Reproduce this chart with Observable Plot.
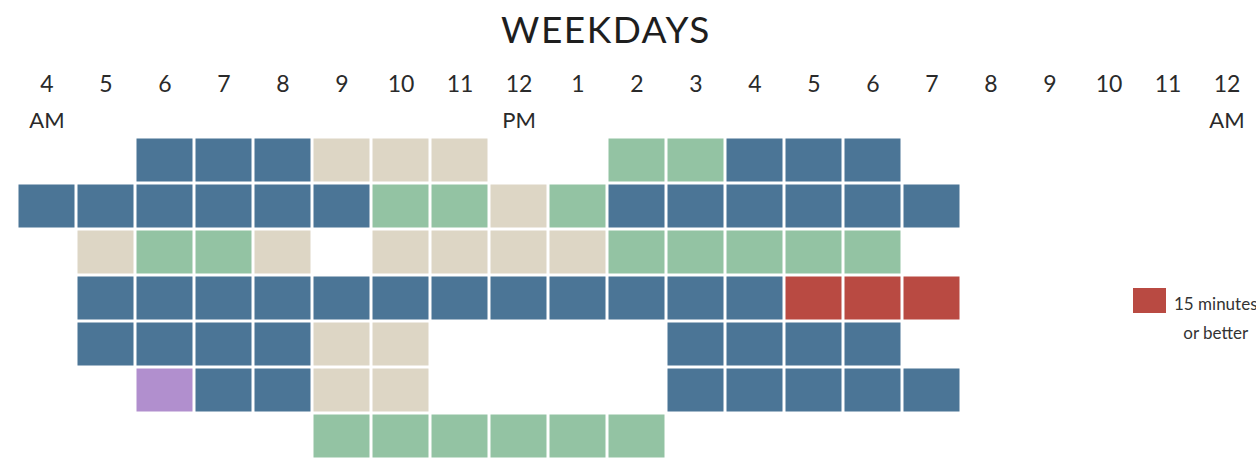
<!DOCTYPE html>
<html>
<head>
<meta charset="utf-8">
<script src="https://cdn.jsdelivr.net/npm/d3@7"></script>
<script src="https://cdn.jsdelivr.net/npm/@observablehq/plot@0.6"></script>
<style>
  html, body { margin: 0; padding: 0; background: #fff; overflow: hidden; }
  #wrap { position: relative; width: 1256px; height: 460px; font-family: Lato, "Noto Sans", sans-serif; color: #222; overflow: hidden; }
  #title { position: absolute; top: 6px; left: 606px; transform: translateX(-50%); font-size: 37px; letter-spacing: 1.5px; white-space: nowrap; color: #1e1e1e; }
  #chart { position: absolute; top: 0; left: 0; }
  #legend { position: absolute; left: 1133px; top: 288px; display: flex; align-items: flex-start; white-space: nowrap; }
  #legend .sw { width: 33px; height: 25px; background: #b94a42; }
  #legend .lb { margin-left: 8px; margin-top: 1px; font-size: 17px; line-height: 29px; text-align: center; color: #333; }
</style>
</head>
<body>
<div id="wrap">
  <div id="chart"></div>
  <div id="title">WEEKDAYS</div>
  <div id="legend"><div class="sw"></div><div class="lb">15 minutes<br>or better</div></div>
</div>
<script>
// Hour tick labels (index 0 = 4 AM ... 20 = 12 AM)
const hourLabels = ["4","5","6","7","8","9","10","11","12","1","2","3","4","5","6","7","8","9","10","11","12"];
const periodLabels = [[0, "AM"], [8, "PM"], [20, "AM"]];

// Frequency categories (B = blue, E = beige, G = green, R = red "15 minutes or better", P = purple)
const categories = ["B", "E", "G", "R", "P"];
const categoryColors = ["#4b7596", "#ddd6c5", "#93c3a3", "#b94a42", "#b18fce"];

// Rows of cells: each entry is the category for the hour index (null = no service)
const row1 = [null, null, "B", "B", "B", "E", "E", "E", null, null, "G", "G", "B", "B", "B"];
const row2 = ["B", "B", "B", "B", "B", "B", "G", "G", "E", "G", "B", "B", "B", "B", "B", "B"];
const row3 = [null, "E", "G", "G", "E", null, "E", "E", "E", "E", "G", "G", "G", "G", "G"];
const row4 = [null, "B", "B", "B", "B", "B", "B", "B", "B", "B", "B", "B", "B", "R", "R", "R"];
const row5 = [null, "B", "B", "B", "B", "E", "E", null, null, null, null, "B", "B", "B", "B"];
const row6 = [null, null, "P", "B", "B", "E", "E", null, null, null, null, "B", "B", "B", "B", "B"];
const row7 = [null, null, null, null, null, "G", "G", "G", "G", "G", "G"];

const rows = [row1, row2, row3, row4, row5, row6, row7];
const cells = [];
rows.forEach((r, ri) => r.forEach((c, hi) => { if (c) cells.push({row: ri + 1, hour: hi, cat: c}); }));

const chart = Plot.plot({
  width: 1256,
  height: 460,
  marginTop: 136,
  marginBottom: 1,
  marginLeft: 0,
  marginRight: 0,
  x: {type: "band", domain: d3.range(hourLabels.length), range: [14.5, 1257.7], padding: 0, axis: null},
  y: {type: "band", domain: d3.range(1, 8), range: [136, 459], padding: 0, axis: null},
  color: {type: "ordinal", domain: categories, range: categoryColors},
  style: {fontFamily: "Lato, 'Noto Sans', sans-serif"},
  marks: [
    Plot.cell(cells, {x: "hour", y: "row", fill: "cat", inset: 1.5}),
    Plot.text(hourLabels, {x: (d, i) => i, text: d => d, frameAnchor: "top", dy: -61, fontSize: 23, fill: "#2a2a2a"}),
    Plot.text(periodLabels, {x: d => d[0], text: d => d[1], frameAnchor: "top", dy: -24, fontSize: 22, fill: "#2a2a2a"})
  ]
});
document.getElementById("chart").appendChild(chart);
</script>
</body>
</html>
